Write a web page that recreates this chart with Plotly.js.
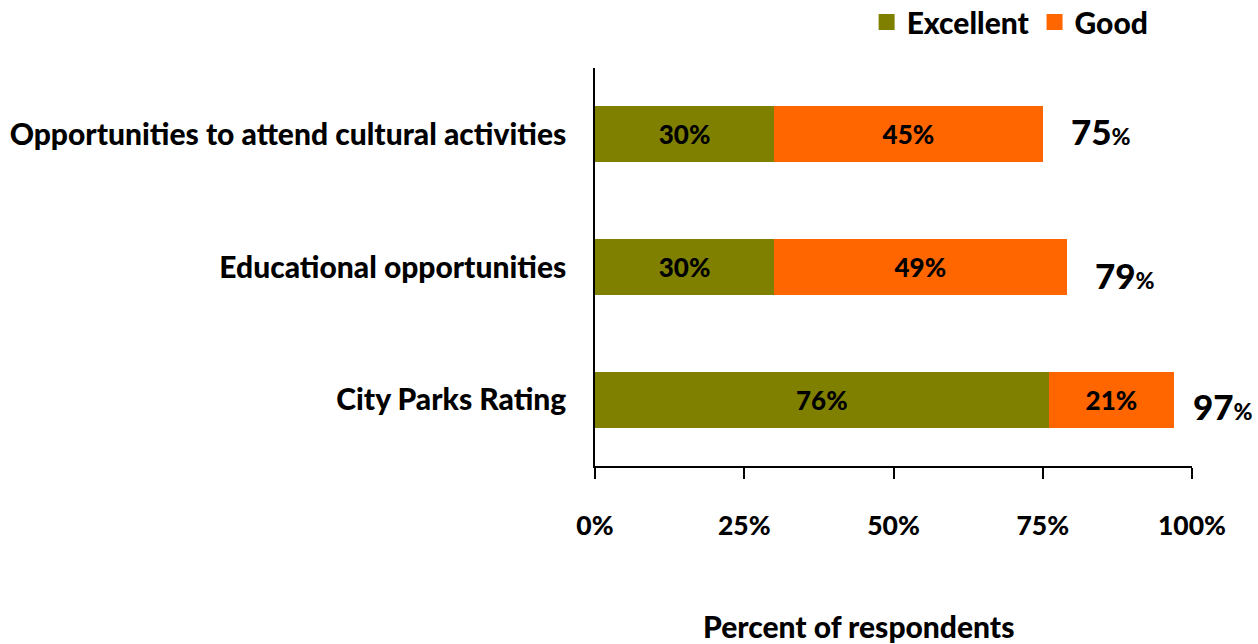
<!DOCTYPE html>
<html>
<head>
<meta charset="utf-8">
<script src="https://cdn.plot.ly/plotly-3.0.1.min.js"></script>
<style>html,body{margin:0;padding:0;background:#fff;}#chart{width:1258px;height:644px;}</style>
</head>
<body>
<div id="chart"></div>
<script>
// Data (bottom to top)
var categories = ['City Parks Rating', 'Educational opportunities', 'Opportunities to attend cultural activities'];
var excellent = [76, 30, 30];
var good = [21, 49, 45];
var totals = [97, 79, 75];
var xTickValues = [0, 25, 50, 75, 100];
var xTickLabels = ['0%', '25%', '50%', '75%', '100%'];
var seriesNames = ['Excellent', 'Good'];

// Style: small pixel nudges for the total labels (as placed in the original)
var totalShiftX = [17, 26, 26];
var totalShiftY = [-6, -8, 3];

var FONT = 'Lato, "Open Sans", sans-serif';
var W = 900;
var colExcellent = '#808000';
var colGood = '#FF6600';

var traces = [
  {
    type: 'bar', orientation: 'h', name: seriesNames[0],
    y: categories, x: excellent,
    marker: {color: colExcellent},
    text: excellent.map(function(v){return v + '%';}),
    textposition: 'inside', insidetextanchor: 'middle',
    textfont: {family: FONT, size: 26, color: '#000', weight: W},
    hoverinfo: 'x+y', showlegend: false
  },
  {
    type: 'bar', orientation: 'h', name: seriesNames[1],
    y: categories, x: good,
    marker: {color: colGood},
    text: good.map(function(v){return v + '%';}),
    textposition: 'inside', insidetextanchor: 'middle',
    textfont: {family: FONT, size: 26, color: '#000', weight: W},
    hoverinfo: 'x+y', showlegend: false
  },
  // legend entries
  {
    type: 'scatter', mode: 'markers', name: seriesNames[0],
    x: [null], y: [null],
    marker: {symbol: 'square', size: 16, color: colExcellent},
    showlegend: true, hoverinfo: 'skip'
  },
  {
    type: 'scatter', mode: 'markers', name: seriesNames[1],
    x: [null], y: [null],
    marker: {symbol: 'square', size: 16, color: colGood},
    showlegend: true, hoverinfo: 'skip'
  }
];

var annotations = categories.map(function(c, i){
  return {
    x: totals[i], y: c, xref: 'x', yref: 'y',
    xanchor: 'left', yanchor: 'middle',
    xshift: totalShiftX[i], yshift: totalShiftY[i],
    text: totals[i] + '<span style="font-size:23px">%</span>',
    showarrow: false,
    font: {family: FONT, size: 35, color: '#000', weight: W}
  };
});
annotations.push({
  x: 0.442, y: -0.402, xref: 'paper', yref: 'paper',
  xanchor: 'center', yanchor: 'middle',
  text: 'Percent of respondents', showarrow: false,
  font: {family: FONT, size: 30, color: '#000', weight: W}
});

var layout = {
  width: 1258, height: 644,
  margin: {l: 595, r: 66, t: 68, b: 178, pad: 0},
  paper_bgcolor: '#fff', plot_bgcolor: '#fff',
  barmode: 'stack', bargap: 0.58,
  font: {family: FONT, color: '#000'},
  showlegend: true,
  legend: {
    orientation: 'h', traceorder: 'normal',
    x: 0.455, xref: 'paper', xanchor: 'left',
    y: 0.966, yref: 'container', yanchor: 'middle',
    font: {family: FONT, size: 30, color: '#000', weight: W},
    itemclick: false, bgcolor: 'rgba(0,0,0,0)'
  },
  xaxis: {
    range: [0, 100], tickvals: xTickValues, ticktext: xTickLabels,
    showgrid: false, zeroline: false, showline: true, linecolor: '#000', linewidth: 1.5,
    ticks: 'outside', ticklen: 11, tickwidth: 1.5, tickcolor: '#000',
    ticklabelstandoff: 24,
    tickfont: {family: FONT, size: 26.5, color: '#000', weight: W},
    fixedrange: true
  },
  yaxis: {
    type: 'category', categoryorder: 'array', categoryarray: categories,
    range: [-0.5, 2.5],
    showgrid: false, zeroline: false, showline: true, linecolor: '#000', linewidth: 1.5,
    ticks: '', ticklabelstandoff: 21,
    tickfont: {family: FONT, size: 30, color: '#000', weight: W},
    fixedrange: true
  },
  annotations: annotations
};

Plotly.newPlot('chart', traces, layout, {displayModeBar: false});
</script>
</body>
</html>
